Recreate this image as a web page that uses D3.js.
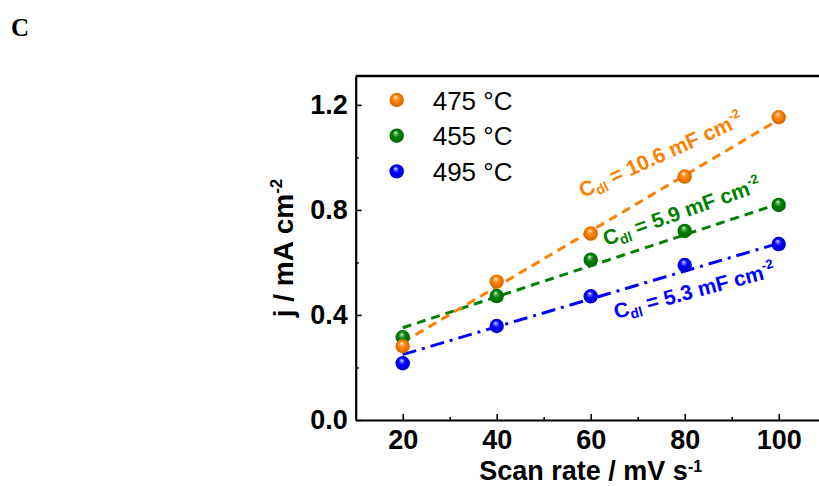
<!DOCTYPE html>
<html>
<head>
<meta charset="utf-8">
<script src="https://d3js.org/d3.v7.min.js"></script>
<style>
  body { margin: 0; background: #fff; }
  text { font-family: "Liberation Sans", Arial, sans-serif; }
</style>
</head>
<body>
<div class="chart"></div>
<script>
var width = 819;
var height = 486;

// scan rate (mV/s) and current density (mA/cm2) per annealing temperature
var scanRates = [20, 40, 60, 80, 100];
var temps = ["475 °C", "455 °C", "495 °C"];
var j475 = [0.281, 0.527, 0.71, 0.927, 1.153];
var j455 = [0.315, 0.472, 0.61, 0.72, 0.819];
var j495 = [0.216, 0.358, 0.471, 0.59, 0.67];
var cdl = [10.6, 5.9, 5.3]; // mF cm-2, slope of the fit
var colors = ["#ff8000", "#008000", "#0000ff"];
var xTicks = [20, 40, 60, 80, 100];
var xMinor = [30, 50, 70, 90];
var yTicks = [0, 0.4, 0.8, 1.2];
var yMinor = [0.2, 0.6, 1.0];

var series = [j475, j455, j495].map(function (vals, i) {
  return { name: temps[i], color: colors[i], cdl: cdl[i], values: vals };
});

var x = d3.scaleLinear().domain([10, 110]).range([355.7, 825.7]);
var y = d3.scaleLinear().domain([0, 1.31]).range([420, 76]);

var svg = d3
  .select(".chart")
  .append("svg")
  .attr("width", width)
  .attr("height", height);

svg.append("rect").attr("width", width).attr("height", height).attr("fill", "#fff");

// panel letter
svg
  .append("text")
  .attr("x", 11)
  .attr("y", 36)
  .style("font-family", "'Liberation Serif', 'Times New Roman', serif")
  .style("font-weight", "bold")
  .style("font-size", "25px")
  .text("C");

// sphere-like marker fills
var defs = svg.append("defs");
colors.forEach(function (c, i) {
  var g = defs
    .append("radialGradient")
    .attr("id", "ball" + i)
    .attr("cx", "50%")
    .attr("cy", "50%")
    .attr("r", "55%")
    .attr("fx", "42%")
    .attr("fy", "28%");
  g.append("stop").attr("offset", "0%").attr("stop-color", "#fff");
  g.append("stop").attr("offset", "16%").attr("stop-color", d3.interpolateRgb("#fff", c)(0.55));
  g.append("stop").attr("offset", "45%").attr("stop-color", c);
  g.append("stop").attr("offset", "100%").attr("stop-color", d3.color(c).darker(0.7));
});

// axes with inward ticks
svg
  .append("g")
  .attr("transform", "translate(0,420)")
  .call(
    d3.axisBottom(x).tickValues(xTicks).tickSizeInner(-6).tickSizeOuter(0).tickPadding(10).tickFormat(d3.format("d"))
  );
svg
  .append("g")
  .attr("transform", "translate(0,420)")
  .call(d3.axisBottom(x).tickValues(xMinor).tickSize(-3).tickFormat(""))
  .select(".domain")
  .remove();

svg
  .append("g")
  .attr("transform", "translate(355.7,0)")
  .call(
    d3.axisLeft(y).tickValues(yTicks).tickSizeInner(-6).tickSizeOuter(0).tickPadding(8).tickFormat(d3.format(".1f"))
  );
svg
  .append("g")
  .attr("transform", "translate(355.7,0)")
  .call(d3.axisLeft(y).tickValues(yMinor).tickSize(-3).tickFormat(""))
  .select(".domain")
  .remove();

svg.selectAll(".domain").attr("stroke-width", 2.2);
svg.selectAll(".tick line").attr("stroke-width", 1.6);
svg
  .selectAll(".tick text")
  .style("font-family", "'Liberation Sans', Arial, sans-serif")
  .style("font-weight", "bold")
  .style("font-size", "27px")
  .attr("fill", "#000");

// top and right frame
svg
  .append("path")
  .attr("d", "M" + x(10) + "," + y(1.31) + "H" + x(110) + "V" + y(0))
  .attr("fill", "none")
  .attr("stroke", "#000")
  .attr("stroke-width", 2.6);

// axis titles
var xt = svg
  .append("text")
  .attr("x", (x(10) + x(110)) / 2)
  .attr("y", 480)
  .attr("text-anchor", "middle")
  .style("font-weight", "bold")
  .style("font-size", "27px")
  .text("Scan rate / mV s");
xt.append("tspan").attr("dy", -8).style("font-size", "16px").text("-1");

var yt = svg
  .append("text")
  .attr("transform", "translate(293," + (y(0) + y(1.31)) / 2 + ") rotate(-90)")
  .attr("text-anchor", "middle")
  .style("font-weight", "bold")
  .style("font-size", "28px")
  .text("j / mA cm");
yt.append("tspan").attr("dy", -11).style("font-size", "17px").text("-2");

// linear fits: slope from Cdl, passing through the mean point
var dashes = ["9,6", "9,6", "14,6,3,6"];
var line = d3
  .line()
  .x(function (d) { return x(d[0]); })
  .y(function (d) { return y(d[1]); });

var drawOrder = [1, 0, 2];
drawOrder.forEach(function (i) {
  var s = series[i];
  var mx = d3.mean(scanRates);
  var my = d3.mean(s.values);
  var k = s.cdl / 1000;
  var pts = [scanRates[0], scanRates[scanRates.length - 1]].map(function (v) {
    return [v, my + k * (v - mx)];
  });
  svg
    .append("path")
    .attr("d", line(pts))
    .attr("fill", "none")
    .attr("stroke", s.color)
    .attr("stroke-width", 3)
    .attr("stroke-dasharray", dashes[i]);
});

// data points
drawOrder.forEach(function (i) {
  var s = series[i];
  svg
    .append("g")
    .selectAll("circle")
    .data(s.values)
    .enter()
    .append("circle")
    .attr("cx", function (_, k) { return x(scanRates[k]); })
    .attr("cy", function (d) { return y(d); })
    .attr("r", 7.2)
    .attr("fill", "url(#ball" + i + ")");
});

// Cdl labels along the fits
var labelPos = [
  { x: 583, y: 198, a: -24.5 },
  { x: 606, y: 246, a: -19.5 },
  { x: 616, y: 319, a: -15 }
];
series.forEach(function (s, i) {
  var p = labelPos[i];
  var t = svg
    .append("text")
    .attr("transform", "translate(" + p.x + "," + p.y + ") rotate(" + p.a + ")")
    .attr("fill", s.color)
    .style("font-weight", "bold")
    .style("font-size", "21px")
    .text("C");
  t.append("tspan").attr("dy", 4).style("font-size", "14px").text("dl");
  t.append("tspan").attr("dy", -4).text(" = " + s.cdl.toFixed(1) + " mF cm");
  t.append("tspan").attr("dy", -9).style("font-size", "13px").text("-2");
});

// legend
var legend = svg
  .append("g")
  .selectAll("g")
  .data(series)
  .enter()
  .append("g")
  .attr("transform", function (_, i) {
    return "translate(396.7," + (100 + i * 35.7) + ")";
  });
legend
  .append("circle")
  .attr("r", 7.2)
  .attr("fill", function (_, i) { return "url(#ball" + i + ")"; });
legend
  .append("text")
  .attr("x", 36)
  .attr("y", 9.5)
  .style("font-size", "26px")
  .text(function (d) { return d.name; });
</script>
</body>
</html>
